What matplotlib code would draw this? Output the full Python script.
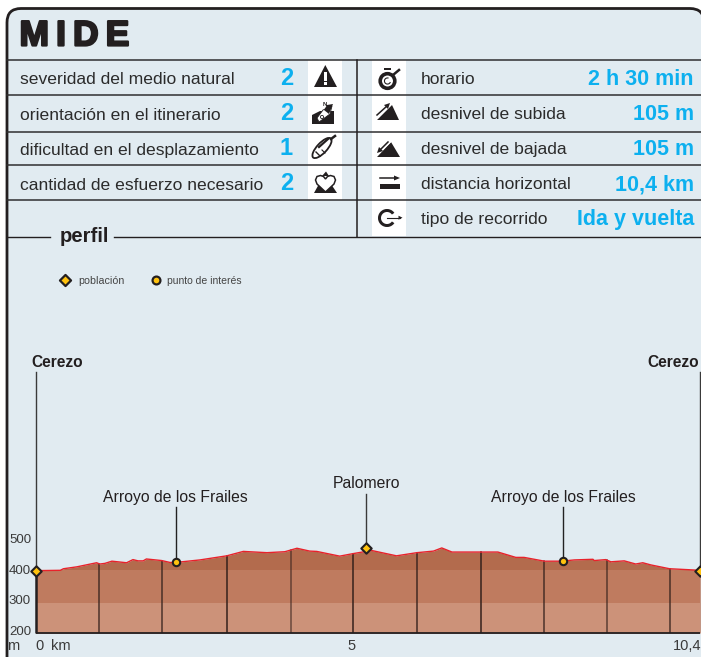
import matplotlib as mpl
mpl.use("Agg")
import matplotlib.pyplot as plt
import matplotlib.patheffects as pe
from matplotlib.patches import FancyBboxPatch, Rectangle, Polygon, Circle, Ellipse, Wedge
import numpy as np

plt.rcParams['font.family'] = ['Liberation Sans', 'DejaVu Sans']

# MIDE table
left_labels = ["severidad del medio natural", "orientación en el itinerario",
               "dificultad en el desplazamiento", "cantidad de esfuerzo necesario"]
left_values = ["2", "2", "1", "2"]
right_labels = ["horario", "desnivel de subida", "desnivel de bajada",
                "distancia horizontal", "tipo de recorrido"]
right_values = ["2 h 30 min", "105 m", "105 m", "10,4 km", "Ida y vuelta"]

# elevation profile
km = [0, 0.38, 0.43, 0.64, 0.95, 1.0, 1.08, 1.19, 1.42, 1.52, 1.60, 1.68, 1.73, 1.97, 2.10, 2.19,
      2.57, 2.99, 3.25, 3.62, 3.90, 4.09, 4.29, 4.40, 4.76, 4.97, 5.26, 5.65, 5.97, 6.23, 6.36,
      6.52, 6.80, 7.24, 7.52, 7.65, 7.97, 8.23, 8.44, 8.73, 8.75, 8.93, 9.01, 9.22, 9.40, 9.51,
      9.64, 9.93, 10.32, 10.41]
elev = [398, 399, 404, 410, 423, 419, 421, 428, 423, 433, 429, 429, 435, 430, 424, 424,
        432, 445, 459, 455, 458, 469, 460, 459, 444, 452, 462, 445, 455, 460, 470,
        457, 457, 457, 440, 440, 428, 428, 432, 434, 430, 433, 426, 429, 419, 423,
        416, 404, 400, 398]
km_lines = [0.99, 1.97, 2.99, 3.99, 4.97, 5.97, 6.97, 7.96, 8.95, 9.94]
bands = [200, 296, 400]
elev_ticks = [200, 300, 400, 500]

towns = ["Cerezo", "Palomero", "Cerezo"]
town_km = [0, 5.17, 10.41]
town_elev = [398, 470, 398]
pois = ["Arroyo de los Frailes", "Arroyo de los Frailes"]
poi_km = [2.19, 8.26]
poi_elev = [424, 428]

W, H = 701, 657
BG = "#e1ebf1"
INK = "#231f20"
BLUE = "#0db0ef"
TXT = "#2b2b2b"

fig = plt.figure(figsize=(W/100, H/100), dpi=100)
fig.patch.set_facecolor("white")

# page layer in pixels, y down
pg = fig.add_axes([0, 0, 1, 1])
pg.set_xlim(0, W)
pg.set_ylim(H, 0)
pg.axis("off")

pg.add_patch(FancyBboxPatch((7, 8.5), 697, 700, boxstyle="round,pad=0,rounding_size=14",
                            fc=BG, ec=INK, lw=2.0, clip_on=True, zorder=0))

# white cells behind icons
pg.add_patch(Rectangle((308, 60), 34, 140, fc="white", ec="none", zorder=1))
pg.add_patch(Rectangle((372, 60), 34, 176, fc="white", ec="none", zorder=1))

rows = [59.5, 95, 131.5, 165, 200]
for r in rows:
    pg.plot([7, 701], [r, r], color="#2f2f30", lw=1.1, zorder=2)
pg.plot([7, 50], [236.5, 236.5], color=INK, lw=1.0, zorder=2)
pg.plot([114, 701], [236.5, 236.5], color=INK, lw=1.0, zorder=2)
pg.plot([356.5, 356.5], [59.5, 236.5], color=INK, lw=1.1, zorder=2)

t = pg.text(19.5, 45.5, "M\u2009I\u2009D\u2009E", fontsize=25.5, fontweight="bold", color=INK, va="baseline", ha="left")
t.set_path_effects([pe.withStroke(linewidth=1.6, foreground=INK)])

ys = [78.5, 113.5, 148.5, 183.5, 218.5]
for y, lab, val in zip(ys, left_labels, left_values):
    pg.text(20, y + 6, lab, fontsize=12.6, color=TXT, va="baseline")
    pg.text(286.5, y + 6.5, val, fontsize=17, color=BLUE, fontweight="bold", ha="center", va="baseline")
for y, lab, val in zip(ys, right_labels, right_values):
    pg.text(421, y + 5.5, lab, fontsize=12.6, color=TXT, va="baseline")
    pg.text(694, y + 6.5, val, fontsize=15.5, color=BLUE, fontweight="bold", ha="right", va="baseline")

pg.text(60, 242.5, "perfil", fontsize=14.6, fontweight="bold", color=INK, va="baseline")

# left icons
pg.add_patch(Polygon([[314, 87], [325.3, 65], [337, 87]], fc=INK, ec="none", zorder=3))
pg.add_patch(Rectangle((324, 72), 3, 8.5, fc="white", zorder=4))
pg.add_patch(Rectangle((324, 82), 3, 3, fc="white", zorder=4))

pg.add_patch(Polygon([[312, 124], [312, 115], [320, 111], [334, 111], [334, 124]], fc=INK, ec="none", zorder=3))
pg.add_patch(Polygon([[332, 106], [330, 114], [319, 122], [317, 118], [323, 110]], fc="white", ec=INK, lw=0.6, zorder=4))
pg.add_patch(Polygon([[333, 104], [327, 105], [324, 110], [329, 114]], fc=INK, ec="none", zorder=5))
pg.add_patch(Circle((322, 117), 1.6, fc="white", ec=INK, lw=0.6, zorder=5))
pg.text(325, 106, "N", fontsize=4.5, fontweight="bold", color=INK, ha="center", va="baseline", zorder=5)

pg.add_patch(Ellipse((322, 148), 26, 10, angle=-47, fc="white", ec=INK, lw=1.3, zorder=3))
pg.plot([319, 328], [147, 139], color=INK, lw=1.6, zorder=4)
pg.plot([316, 320], [152, 156], color=INK, lw=1.0, zorder=4)
pg.plot([322, 325], [150, 153], color=INK, lw=0.8, zorder=4)
pg.plot([331, 335], [139, 136], color=INK, lw=1.8, zorder=4)

pg.add_patch(Polygon([[314, 193], [319, 184], [325, 191], [331, 184], [337, 193]], fc=INK, ec="none", zorder=3))
heart = [[325.5, 192], [317, 184], [315.5, 180], [317, 176.5], [320.5, 175.5], [323.5, 176.5], [325.5, 179],
         [327.5, 176.5], [330.5, 175.5], [334, 176.5], [335.5, 180], [334, 184]]
pg.add_patch(Polygon(heart, fc="white", ec=INK, lw=1.1, zorder=4))
pg.add_patch(Polygon([[322, 176], [326, 171.5], [329, 176]], fc=INK, ec="none", zorder=5))

# right icons
pg.add_patch(Circle((387.5, 81), 7.3, fc="white", ec=INK, lw=2.6, zorder=3))
pg.add_patch(Wedge((387.5, 81), 3.6, 20, 290, width=1.1, fc=INK, zorder=4))
pg.add_patch(Rectangle((384, 68), 7, 2.2, fc=INK, zorder=4))
pg.plot([393, 399], [75, 70], color=INK, lw=1.8, zorder=4)

pg.add_patch(Polygon([[377, 120], [392, 105], [399, 120]], fc=INK, ec="none", zorder=3))
pg.plot([376, 389], [118, 105], color="white", lw=2.4, zorder=4)
pg.plot([377, 387], [115, 106], color=INK, lw=1.1, zorder=5)
pg.add_patch(Polygon([[390, 103], [384, 105], [388, 109]], fc=INK, zorder=5))

pg.add_patch(Polygon([[377, 157], [391, 142], [400, 157]], fc=INK, ec="none", zorder=3))
pg.plot([376, 389], [155, 142], color="white", lw=2.4, zorder=4)
pg.plot([388, 380], [142, 150], color=INK, lw=1.1, zorder=5)
pg.add_patch(Polygon([[377, 153], [383, 151], [379, 147]], fc=INK, zorder=5))

pg.add_patch(Rectangle((380, 184), 20, 5, fc=INK, zorder=3))
pg.plot([380, 396], [178, 178], color=INK, lw=1.1, zorder=3)
pg.add_patch(Polygon([[400, 178], [394, 175.5], [394, 180.5]], fc=INK, zorder=3))

pg.add_patch(Wedge((387, 218), 9, 35, 325, width=3, fc=INK, zorder=3))
pg.plot([387, 400], [217.7, 217.7], color=INK, lw=0.8, zorder=4)
pg.add_patch(Polygon([[402.5, 217.7], [398.5, 215.7], [398.5, 219.7]], fc=INK, zorder=4))

# legend
pg.scatter([65], [280], marker="D", s=32, fc="#ffc20e", ec=INK, lw=1.6, zorder=5)
pg.text(78, 283.5, "población", fontsize=7.7, color="#444444", va="baseline")
pg.scatter([156], [280], marker="o", s=32, fc="#ffc20e", ec=INK, lw=1.6, zorder=5)
pg.text(167, 283.5, "punto de interés", fontsize=7.5, color="#444444", va="baseline")

# profile axes, 1 km = 63.8 px and 100 m = 31.5 px
px_km, px_m = 63.8, 0.315
x0, x1, y0, y1 = 36, W, 633, 340
ax = fig.add_axes([x0/W, 1 - y0/H, (x1 - x0)/W, (y0 - y1)/H])
ax.set_xlim(0, (x1 - x0)/px_km)
ax.set_ylim(200, 200 + (y0 - y1)/px_m)
ax.patch.set_alpha(0)
for s in ax.spines.values():
    s.set_visible(False)
ax.set_xticks([])
ax.set_yticks([])

km_a = np.array(km)
elev_a = np.array(elev)
ax.fill_between(km_a, bands[0], elev_a, color="#b36b4d", lw=0, zorder=1)
ax.fill_between(km_a, bands[0], bands[2], color="#bf7b5f", lw=0, zorder=1.1)
ax.fill_between(km_a, bands[0], bands[1], color="#cc9279", lw=0, zorder=1.2)
for k, shade in zip(km_lines, [0.85, 0.85, 1, 0.65, 1, 0.9, 1, 0.85, 0.75, 0.85]):
    e = np.interp(k, km_a, elev_a)
    ax.plot([k, k], [200, e], color="#35211c", lw=1.1, alpha=shade, zorder=2)
ax.plot(km_a, elev_a, color="#e8222b", lw=1.0, zorder=3)
ax.plot([0, 0], [200, 398], color=INK, lw=1.8, zorder=4, clip_on=False, solid_capstyle="butt")
ax.plot([0, 10.41], [200, 200], color=INK, lw=1.3, zorder=4, clip_on=False, solid_capstyle="butt")

# stems, markers and names
stem_top = {0: 372, 1: 494, 2: 372}
for i, (name, k, e) in enumerate(zip(towns, town_km, town_elev)):
    top = 200 + (y0 - stem_top[i])/px_m
    ax.plot([k, k], [e, top], color="#3a3a3a", lw=1.0, zorder=2.5, clip_on=False)
    ax.scatter([k], [e], marker="D", s=28, fc="#ffc20e", ec=INK, lw=1.5, zorder=6, clip_on=False)
pg.text(57.5, 367, towns[0], fontsize=11.2, fontweight="bold", color=INK, ha="center", va="baseline")
pg.text(366, 488, towns[1], fontsize=11.3, color=INK, ha="center", va="baseline")
pg.text(673.5, 367, towns[2], fontsize=11.2, fontweight="bold", color=INK, ha="center", va="baseline")
for name, k, e in zip(pois, poi_km, poi_elev):
    top = 200 + (y0 - 507)/px_m
    ax.plot([k, k], [e, top], color="#222222", lw=1.0, zorder=2.5)
    ax.scatter([k], [e], marker="o", s=28, fc="#ffc20e", ec=INK, lw=1.5, zorder=6)
    pg.text(x0 + k*px_km, 502, name, fontsize=11.3, color=INK, ha="center", va="baseline")

# tick labels
for v in elev_ticks:
    py = {200: 632, 300: 601, 400: 571, 500: 540}[v]
    pg.text(20, py, str(v), fontsize=9.5, color="#3a3a3a", ha="center", va="center")
pg.text(13, 650, "m", fontsize=10.5, color="#3a3a3a", ha="center", va="baseline")
pg.text(39, 649.5, "0", fontsize=10.5, color="#3a3a3a", ha="center", va="baseline")
pg.text(61, 649.5, "km", fontsize=10.5, color="#3a3a3a", ha="center", va="baseline")
pg.text(352, 649.5, "5", fontsize=10.5, color="#3a3a3a", ha="center", va="baseline")
pg.text(701, 649.5, "10,4", fontsize=10.5, color="#3a3a3a", ha="right", va="baseline")

fig.savefig("out.png", dpi=100)
